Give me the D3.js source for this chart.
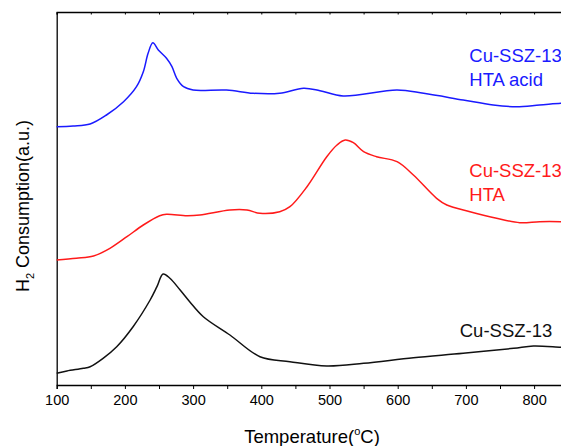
<!DOCTYPE html>
<html><head><meta charset="utf-8">
<script src="https://cdn.jsdelivr.net/npm/d3@7/dist/d3.min.js"></script>
<style>
html,body{margin:0;padding:0;background:#fff;overflow:hidden}
text{font-family:"Liberation Sans",Arial,Helvetica,sans-serif}
</style></head><body>
<svg id="c" width="561" height="446"></svg>
<script>
// Temperature (°C) and H2 consumption (a.u.)
const tempBlue = [100,124,149,173,198,217,227,234,241,249,261,269,276,286,300,349,388,427,462,486,520,599,638,696,740,774,808,839,850];
const valBlue  = [258.3,259,261,270,283.3,298.3,313.3,331.7,342.3,335,326.7,318.3,306.7,298.3,295,295,291.7,291.7,296.7,294.3,289,295,291.7,285,280,278.3,280,281.7,282];
const tempRed  = [100,129,154,178,203,227,251,261,291,310,354,379,398,427,442,467,496,511,523,535,550,569,599,623,657,672,706,745,779,808,839,850];
const valRed   = [125,126.7,129,136.7,148.3,160,169.3,170.7,169.3,170,175,175,171.7,173.3,178.3,198.3,228.3,240,245,242.3,233.3,228.3,223.3,210,186.7,180,173.3,166.7,162.3,163.3,163.3,163];
const tempBlack= [100,115,139,149,168,188,212,237,247,256,266,281,295,315,354,398,442,496,550,623,696,770,799,839,850];
const valBlack = [11.7,14,16.7,18.3,26.7,38.3,58.3,85,98.3,111,106.7,95,83.3,68.3,50,28.3,23.3,19,21.7,27.3,31.7,36.7,39,37.7,37.5];
const seriesNames = ["Cu-SSZ-13 HTA acid","Cu-SSZ-13 HTA","Cu-SSZ-13"];
const labelLines = [["Cu-SSZ-13","HTA acid"],["Cu-SSZ-13","HTA"],["Cu-SSZ-13"]];
const labelTemps = [705,705,691];
const labelVals  = [323,208.3,48.3];
const xTicks = [100,200,300,400,500,600,700,800];
const xMinor = [150,250,350,450,550,650,750,850];
const colors = ["#1a1aff","#ff1a1a","#111111"];

const svg = d3.select("#c");
const L=56.7, T=12, B=385, R=568.2;
const x = d3.scaleLinear().domain([100,850]).range([L,R]);
const y = d3.scaleLinear().domain([0,373]).range([B,T]);

const allTicks = xTicks.concat(xMinor).filter(t=>t<=850);
// bottom axis
const gx = svg.append("g").attr("transform",`translate(0,${B})`)
  .call(d3.axisBottom(x).tickValues(allTicks).tickSize(4).tickPadding(6)
        .tickFormat(d=>xTicks.includes(d)?d:""));
gx.select(".domain").attr("stroke","#000").attr("stroke-width",1.3);
gx.selectAll(".tick line").attr("stroke","#000").attr("stroke-width",1);
gx.selectAll(".tick text").attr("font-size","14.5px").attr("fill","#000")
  .style("font-family","'Liberation Sans',Arial,sans-serif");
// top axis (inward ticks)
const gt = svg.append("g").attr("transform",`translate(0,${T})`)
  .call(d3.axisTop(x).tickValues(allTicks).tickSize(-2.5).tickFormat(""));
gt.select(".domain").attr("stroke","#000").attr("stroke-width",1.3);
gt.selectAll(".tick line").attr("stroke","#000");
// left axis
const gy = svg.append("g").attr("transform",`translate(${L},0)`)
  .call(d3.axisLeft(y).tickValues([]).tickSizeOuter(0));
gy.select(".domain").attr("stroke","#000").attr("stroke-width",1.3);

const series = [[tempBlue,valBlue],[tempRed,valRed],[tempBlack,valBlack]];
const line = d3.line().x(d=>x(d[0])).y(d=>y(d[1])).curve(d3.curveCatmullRom.alpha(0.5));
series.forEach((s,i)=>{
  const pts = s[0].map((t,k)=>[t,s[1][k]]);
  svg.append("path").datum(pts).attr("d",line)
    .attr("fill","none").attr("stroke",colors[i]).attr("stroke-width",1.5)
    .attr("stroke-linejoin","round");
  const tx = svg.append("text").attr("x",x(labelTemps[i])).attr("y",y(labelVals[i]))
    .attr("font-size","18.5px").attr("fill",colors[i]);
  labelLines[i].forEach((ln,k)=>{
    tx.append("tspan").attr("x",x(labelTemps[i])).attr("dy",k===0?0:24).text(ln);
  });
});

// axis titles
const xl = svg.append("text").attr("x",312).attr("y",443).attr("text-anchor","middle")
  .attr("font-size","18.5px").attr("fill","#000");
xl.append("tspan").text("Temperature(");
xl.append("tspan").attr("font-size","11px").attr("dy",-8).text("o");
xl.append("tspan").attr("dy",8).text("C)");

const yl = svg.append("text").attr("transform","translate(29,206) rotate(-90)")
  .attr("text-anchor","middle").attr("font-size","18px").attr("fill","#000");
yl.append("tspan").text("H");
yl.append("tspan").attr("font-size","11px").attr("dy",5).text("2");
yl.append("tspan").attr("dy",-5).text(" Consumption(a.u.)");
</script>
</body></html>
